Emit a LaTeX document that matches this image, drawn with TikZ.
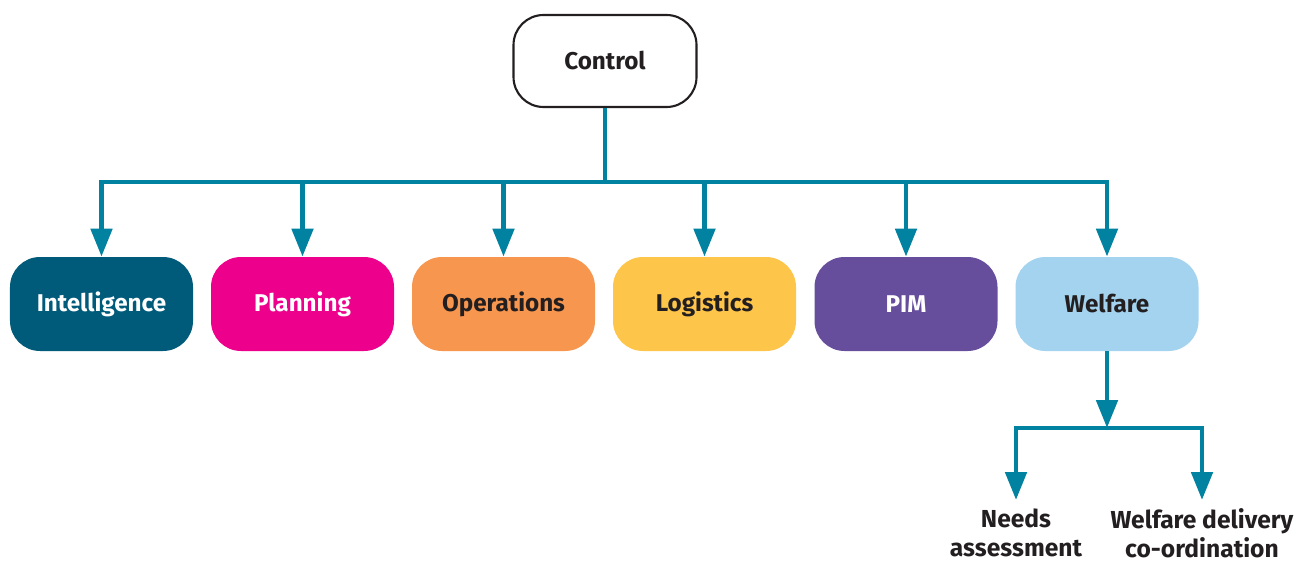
\documentclass[tikz,border=0pt]{standalone}
\usepackage{fontspec}
\setmainfont{Fira Sans}
\usetikzlibrary{arrows.meta}
\definecolor{linkblue}{RGB}{0,130,160}
\definecolor{intelcol}{RGB}{0,90,122}
\definecolor{plancol}{RGB}{236,0,140}
\definecolor{opscol}{RGB}{247,150,79}
\definecolor{logcol}{RGB}{253,197,74}
\definecolor{pimcol}{RGB}{103,78,157}
\definecolor{welfcol}{RGB}{163,211,239}
\definecolor{inkcol}{RGB}{35,31,32}
\tikzset{
  cell/.style={rounded corners=0.6cm, minimum width=3.66cm, minimum height=1.88cm,
    font=\bfseries\fontsize{13.8}{16}\selectfont, text=white},
  leaf/.style={align=center, font=\bfseries\fontsize{14}{16.5}\selectfont, text=inkcol},
  link/.style={draw=linkblue, line width=2.8pt},
  tip/.style={-{Triangle[width=0.42cm,length=0.56cm]}}
}
\begin{document}
\begin{tikzpicture}
  \useasboundingbox (0,0) rectangle (25.98,-11.26);
  \draw
    (12.10,-1.22) node[cell, draw=inkcol, line width=1.2pt, text=inkcol, minimum height=1.84cm] (control){Control}
    (2.03,-6.08) node[cell, fill=intelcol] (intel){Intelligence}
    (6.05,-6.08) node[cell, fill=plancol] (plan){Planning}
    (10.07,-6.08) node[cell, fill=opscol, text=inkcol] (ops){Operations}
    (14.09,-6.08) node[cell, fill=logcol, text=inkcol] (log){Logistics}
    (18.12,-6.08) node[cell, fill=pimcol] (pim){PIM}
    (22.14,-6.08) node[cell, fill=welfcol, text=inkcol] (welf){Welfare}
    (20.32,-10.66) node[leaf] (needs){Needs\\assessment}
    (24.04,-10.66) node[leaf] (deliv){Welfare delivery\\co-ordination};
  \coordinate (hub) at (12.10,-3.64);
  \coordinate (fork) at (22.14,-8.56);
  \coordinate (needtip) at (20.32,-10.00);
  \coordinate (delivtip) at (24.04,-10.00);
  \begin{scope}[link]
    \draw (control.south) -- (hub);
    \draw[line cap=rect] (intel.north |- hub) -- (welf.north |- hub);
    \draw[tip] (intel.north |- hub) -- (intel.north);
    \draw[tip] (plan.north |- hub) -- (plan.north);
    \draw[tip] (ops.north |- hub) -- (ops.north);
    \draw[tip] (log.north |- hub) -- (log.north);
    \draw[tip] (pim.north |- hub) -- (pim.north);
    \draw[tip] (welf.north |- hub) -- (welf.north);
    \draw[tip] (welf.south) -- (fork);
    \draw[line cap=rect] (needtip |- fork) -- (delivtip |- fork);
    \draw[tip] (needtip |- fork) -- (needtip);
    \draw[tip] (delivtip |- fork) -- (delivtip);
  \end{scope}
\end{tikzpicture}
\end{document}
